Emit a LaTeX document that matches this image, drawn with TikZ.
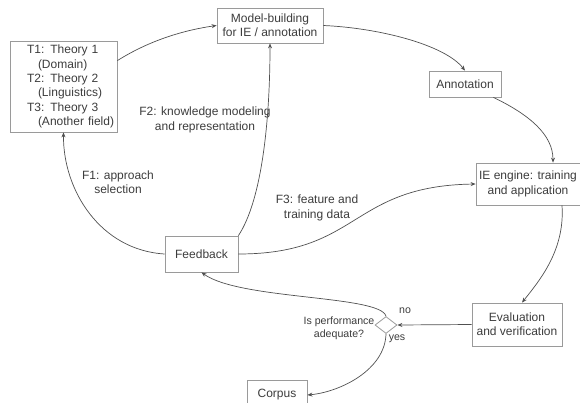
\documentclass[tikz,border=0pt]{standalone}
\usepackage{fontspec}
\setmainfont{Liberation Sans}
\usetikzlibrary{arrows.meta,shapes.geometric}
\definecolor{txtgray}{HTML}{3C3C3C}
\definecolor{boxgray}{HTML}{9A9A9A}
\definecolor{linegray}{HTML}{505050}

\begin{document}
\begin{tikzpicture}[x=1pt, y=-1pt,
  box/.style={draw=boxgray, line width=0.8pt, rectangle, align=center, inner sep=2pt, text=txtgray, font=\fontsize{12}{14.3}\selectfont},
  flow/.style={draw=linegray, line width=0.7pt, -{Stealth[length=5pt,width=4pt]}},
  lbl/.style={text=txtgray, align=center, inner sep=1pt, font=\fontsize{12}{14.3}\selectfont},
  small/.style={text=txtgray, align=center, inner sep=1pt, font=\fontsize{10.6}{12.8}\selectfont}]
\useasboundingbox (0,0) rectangle (580,402);

% Boxes
\node[box, align=left, text width=103pt, inner xsep=2pt, minimum height=91] (theory) at (63.5,86.5)
  {\hspace*{15pt}T1: Theory 1\\ \hspace*{26pt}(Domain)\\ \hspace*{15pt}T2: Theory 2\\ \hspace*{26pt}(Linguistics)\\ \hspace*{15pt}T3: Theory 3\\ \hspace*{26pt}(Another field)};
\node[box, minimum width=106, minimum height=35] (model) at (270,25.5) {Model-building\\for IE / annotation};
\node[box, minimum width=72, minimum height=26] (annot) at (465,84) {Annotation};
\node[box, minimum width=104, minimum height=42] (ie) at (528,184) {IE engine: training\\and application};
\node[box, minimum width=90, minimum height=43] (eval) at (517,324.5) {Evaluation\\and verification};
\node[box, minimum width=73, minimum height=36] (fb) at (201.5,254) {Feedback};
\node[box, minimum width=60, minimum height=30] (corpus) at (277,395) {Corpus};

% Decision
\node[diamond, draw=boxgray, line width=0.8pt, minimum width=22, minimum height=17, inner sep=0pt] (check) at (386,325) {};
\node[small] (question) at (339,328) {Is performance\\adequate?};
\node[small] (no) at (405,311) {no};
\node[small] (yes) at (397,339) {yes};

% Main cycle
\draw[flow] ([yshift=-20pt]theory.north east) .. controls (150,40) and (185,30) .. (model.west);
\draw[flow] (model.east) .. controls (380,28) and (445,45) .. (annot.north);
\draw[flow] ([xshift=-8pt]annot.south east) .. controls (530,115) and (553,135) .. ([xshift=25pt]ie.north);
\draw[flow] ([xshift=34pt]ie.south) .. controls (565,250) and (540,280) .. ([xshift=5pt]eval.north);
\draw[flow] (eval.west) -- (check.east);
\draw[flow] (check.north) .. controls (380,295) and (240,300) .. (fb.south);
\draw[flow] (check.south) .. controls (385,370) and (340,392) .. (corpus.east);

% Feedback paths
\draw[flow] (fb.west) .. controls (100,250) and (63,190) .. (theory.south);
\draw[flow] (fb.north east) .. controls (262,200) and (270,120) .. (model.south);
\draw[flow] (fb.east) .. controls (360,254) and (350,186) .. (ie.west);

% Labels
\node[lbl] (f1) at (118,182) {F1: approach\\selection};
\node[lbl] (f2) at (205,120) {F2: knowledge modeling\\and representation};
\node[lbl] (f3) at (317,208) {F3: feature and\\training data};

\end{tikzpicture}
\end{document}
